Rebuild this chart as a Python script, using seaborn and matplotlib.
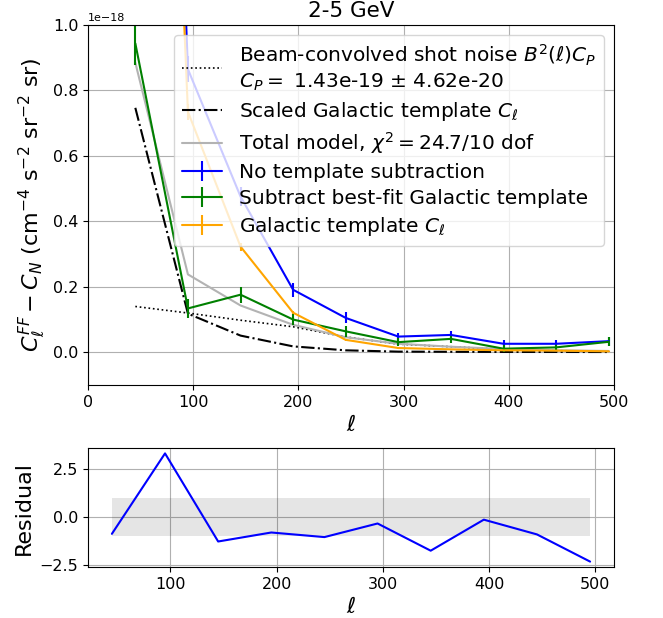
import numpy as np
import matplotlib
matplotlib.use('Agg')
import matplotlib.pyplot as plt
import pandas as pd
import seaborn as sns

sns.set_style('ticks', {'axes.grid': True, 'grid.color': '#b0b0b0', 'axes.edgecolor': 'black',
                        'text.color': 'black', 'xtick.color': 'black', 'ytick.color': 'black',
                        'axes.labelcolor': 'black'})
plt.rcParams['font.family'] = ['DejaVu Sans']

# multipole bin centres
ell = [45, 95, 145, 195, 245, 295, 345, 395, 445, 495]

# values in units of 1e-18
no_sub = [5.0, 0.865, 0.476, 0.191, 0.105, 0.048, 0.053, 0.026, 0.026, 0.034]
no_sub_err = [0.3, 0.04, 0.03, 0.022, 0.017, 0.012, 0.012, 0.012, 0.011, 0.014]
sub_fit = [0.944, 0.134, 0.176, 0.100, 0.064, 0.031, 0.041, 0.011, 0.015, 0.032]
sub_fit_err = [0.066, 0.029, 0.025, 0.018, 0.017, 0.013, 0.013, 0.010, 0.010, 0.014]
gal_tmpl = [4.54, 0.735, 0.323, 0.121, 0.038, 0.013, 0.009, 0.006, 0.005, 0.003]
gal_tmpl_err = [0.2, 0.025, 0.012, 0.005, 0.003, 0.002, 0.001, 0.001, 0.001, 0.001]

shot_noise = [0.140, 0.120, 0.098, 0.078, 0.047, 0.025, 0.017, 0.009, 0.005, 0.003]
gal_scaled = [0.747, 0.118, 0.051, 0.018, 0.006, 0.002, 0.0015, 0.001, 0.001, 0.0008]
total_model = [0.885, 0.238, 0.143, 0.084, 0.046, 0.026, 0.017, 0.010, 0.006, 0.004]

residual = [-0.88, 3.32, -1.28, -0.81, -1.05, -0.34, -1.76, -0.14, -0.91, -2.33]

scale = 1e-18

df = pd.DataFrame({'ell': ell,
                   'shot': np.array(shot_noise) * scale,
                   'gal': np.array(gal_scaled) * scale,
                   'total': np.array(total_model) * scale,
                   'resid': residual})

fig = plt.figure(figsize=(6.63, 6.18), dpi=100)
ax = fig.add_axes([0.1327, 0.377, 0.7934, 0.5825])
axr = fig.add_axes([0.1327, 0.0825, 0.7934, 0.1926])

sns.lineplot(data=df, x='ell', y='shot', ax=ax, color='black', linestyle=':', lw=1.2,
             label='Beam-convolved shot noise $B^2(\\ell)C_P$\n$C_P = $ 1.43e-19 ± 4.62e-20')
sns.lineplot(data=df, x='ell', y='gal', ax=ax, color='black', linestyle='-.', lw=1.5,
             label=r'Scaled Galactic template $C_\ell$')
sns.lineplot(data=df, x='ell', y='total', ax=ax, color='0.7', lw=1.5,
             label=r'Total model, $\chi^2 = 24.7/10$ dof')

ax.errorbar(ell, np.array(no_sub) * scale, yerr=np.array(no_sub_err) * scale,
            color='blue', lw=1.5, label='No template subtraction')
ax.errorbar(ell, np.array(sub_fit) * scale, yerr=np.array(sub_fit_err) * scale,
            color='green', lw=1.5, label='Subtract best-fit Galactic template')
ax.errorbar(ell, np.array(gal_tmpl) * scale, yerr=np.array(gal_tmpl_err) * scale,
            color='orange', lw=1.5, label=r'Galactic template $C_\ell$')

ax.set_xlim(0, 500)
ax.set_ylim(-0.1e-18, 1.0e-18)
ax.set_title('2-5 GeV', fontsize=15.5)
ax.set_xlabel(r'$\ell$', fontsize=16)
ax.set_ylabel(r'$C_\ell^{FF} - C_N$ (cm$^{-4}$ s$^{-2}$ sr$^{-2}$ sr)', fontsize=16)
ax.tick_params(labelsize=11.5)
ax.yaxis.get_offset_text().set_fontsize(8)
ax.legend(loc='upper right', fontsize=14.5, framealpha=0.8, labelspacing=0.35)

axr.fill_between(ell, -1, 1, color='black', alpha=0.1, lw=0)
sns.lineplot(data=df, x='ell', y='resid', ax=axr, color='blue', lw=1.5)
axr.set_xlabel(r'$\ell$', fontsize=16)
axr.set_ylabel('Residual', fontsize=16)
axr.tick_params(labelsize=11.5)

fig.savefig('out.png', dpi=100)
